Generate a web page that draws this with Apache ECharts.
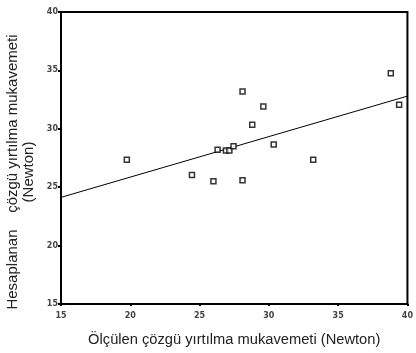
<!DOCTYPE html>
<html>
<head>
<meta charset="utf-8">
<script src="https://cdn.jsdelivr.net/npm/echarts@6/dist/echarts.min.js"></script>
<style>
html,body{margin:0;padding:0;background:#fff;}
#c{width:416px;height:353px;}
</style>
</head>
<body>
<div id="c"></div>
<script>
var measured = [38.8, 28.1, 29.6, 39.4, 28.8, 19.75, 24.45, 26.0, 28.1, 26.3, 26.9, 27.15, 27.45, 30.35, 33.2];
var predicted = [34.75, 33.2, 31.9, 32.05, 30.35, 27.35, 26.05, 25.5, 25.6, 28.2, 28.15, 28.15, 28.5, 28.65, 27.35];
var fitX = [15, 40];
var fitY = [24.13, 32.8];
var xTitle = 'Ölçülen çözgü yırtılma mukavemeti (Newton)';
var yTitle = 'Hesaplanan    çözgü yırtılma mukavemeti\n(Newton)';

var chart = echarts.init(document.getElementById('c'), null, {renderer: 'canvas'});
var pts = measured.map(function (v, i) { return [v, predicted[i]]; });
var fit = fitX.map(function (v, i) { return [v, fitY[i]]; });
var tickFont = {fontFamily: 'DejaVu Sans', fontSize: 8, fontWeight: 'bold', color: '#444'};
chart.setOption({
  animation: false,
  backgroundColor: '#fff',
  grid: {left: 61, right: 2, top: 12, bottom: 49, show: true, borderColor: '#000', borderWidth: 2, backgroundColor: 'transparent'},
  xAxis: {
    type: 'value', min: 15, max: 40, interval: 5,
    axisLine: {show: true, onZero: false, lineStyle: {color: '#000', width: 2}},
    axisTick: {show: true, length: 2, lineStyle: {color: '#000', width: 2}},
    splitLine: {show: false},
    axisLabel: Object.assign({margin: 8}, tickFont),
    name: xTitle, nameLocation: 'middle', nameGap: 28,
    nameTextStyle: {fontFamily: 'Liberation Sans', fontSize: 14.7, color: '#222'}
  },
  yAxis: {
    type: 'value', min: 15, max: 40, interval: 5,
    axisLine: {show: true, onZero: false, lineStyle: {color: '#000', width: 2}},
    axisTick: {show: true, length: 3, lineStyle: {color: '#000', width: 2}},
    splitLine: {show: false},
    axisLabel: Object.assign({margin: 3}, tickFont)
  },
  graphic: [{
    type: 'text',
    x: 21, y: 172,
    rotation: Math.PI / 2,
    style: {
      text: yTitle,
      fontFamily: 'Liberation Sans', fontSize: 15, fill: '#222',
      align: 'center', verticalAlign: 'middle', lineHeight: 16
    }
  }],
  series: [{
    type: 'line',
    data: fit,
    symbol: 'none',
    lineStyle: {color: '#000', width: 1},
    z: 2
  }, {
    type: 'scatter',
    data: pts,
    symbol: 'rect',
    symbolSize: 5,
    itemStyle: {color: '#fff', borderColor: '#000', borderWidth: 1.5},
    z: 3
  }]
});
</script>
</body>
</html>
